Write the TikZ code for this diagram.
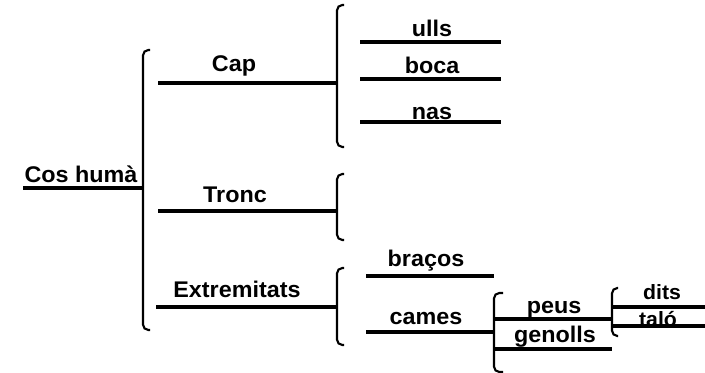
\documentclass[tikz,border=0pt]{standalone}
\usepackage{fontspec}
\setmainfont{Liberation Sans}[FakeStretch=1.03]
\usepackage{tikz}

\begin{document}
\begin{tikzpicture}[x=0.75pt,y=-0.75pt,
    lbl/.style={font=\bfseries\fontsize{17}{20}\selectfont,anchor=base,inner sep=0pt},
    sml/.style={lbl,font=\bfseries\fontsize{15.5}{18}\selectfont},
    ln/.style={line width=2.6pt},
    brk/.style={line width=1.6pt,rounded corners=4pt}]
                  \useasboundingbox (0,0) rectangle (705,373);

                  \node[lbl] (cos) at (81,183) {Cos humà};
                  \coordinate (cos-a) at (23,188); \coordinate (cos-b) at (143,188);
                  \draw[ln] (cos-a) -- (cos-b);
                  \draw[brk] (150,50) -- (143,50) -- (143,330) -- (150,330);

                  \node[lbl] (cap) at (234,72) {Cap};
                  \coordinate (cap-a) at (158,83); \coordinate (cap-b) at (337,83);
                  \draw[ln] (cap-a) -- (cap-b);
                  \node[lbl] (tronc) at (235,203) {Tronc};
                  \coordinate (tronc-a) at (158,211); \coordinate (tronc-b) at (337,211);
                  \draw[ln] (tronc-a) -- (tronc-b);
                  \node[lbl] (ext) at (237,298) {Extremitats};
                  \coordinate (ext-a) at (156,307); \coordinate (ext-b) at (337,307);
                  \draw[ln] (ext-a) -- (ext-b);

                  \draw[brk] (344,5) -- (337,5) -- (337,147) -- (344,147);
                  \draw[brk] (344,174) -- (337,174) -- (337,240) -- (344,240);
                  \draw[brk] (344,268) -- (337,268) -- (337,345) -- (344,345);

                  \node[lbl] (ulls) at (432,37) {ulls};
                  \coordinate (ulls-a) at (360,42); \coordinate (ulls-b) at (501,42);
                  \draw[ln] (ulls-a) -- (ulls-b);
                  \node[lbl] (boca) at (432,74) {boca};
                  \coordinate (boca-a) at (360,79); \coordinate (boca-b) at (501,79);
                  \draw[ln] (boca-a) -- (boca-b);
                  \node[lbl] (nas) at (432,120) {nas};
                  \coordinate (nas-a) at (360,122); \coordinate (nas-b) at (501,122);
                  \draw[ln] (nas-a) -- (nas-b);

                  \node[lbl] (bracos) at (426,267) {braços};
                  \coordinate (bracos-a) at (366,276); \coordinate (bracos-b) at (494,276);
                  \draw[ln] (bracos-a) -- (bracos-b);
                  \node[lbl] (cames) at (426,325) {cames};
                  \coordinate (cames-a) at (366,332); \coordinate (cames-b) at (494,332);
                  \draw[ln] (cames-a) -- (cames-b);
                  \draw[brk] (503,293) -- (494,293) -- (494,372) -- (503,372);

                  \node[lbl] (peus) at (554,313) {peus};
                  \coordinate (peus-a) at (494,319); \coordinate (peus-b) at (612,319);
                  \draw[ln] (peus-a) -- (peus-b);
                  \node[lbl] (genolls) at (555,342) {genolls};
                  \coordinate (genolls-a) at (494,349); \coordinate (genolls-b) at (612,349);
                  \draw[ln] (genolls-a) -- (genolls-b);
                  \draw[brk] (618,288) -- (612,288) -- (612,336) -- (618,336);

                  \node[sml] (dits) at (662,300) {dits};
                  \coordinate (dits-a) at (612,307); \coordinate (dits-b) at (705,307);
                  \draw[ln] (dits-a) -- (dits-b);
                  \node[sml] (talo) at (658,326) {taló};
                  \coordinate (talo-a) at (612,326); \coordinate (talo-b) at (705,326);
                  \draw[ln] (talo-a) -- (talo-b);
              \end{tikzpicture}
\end{document}
